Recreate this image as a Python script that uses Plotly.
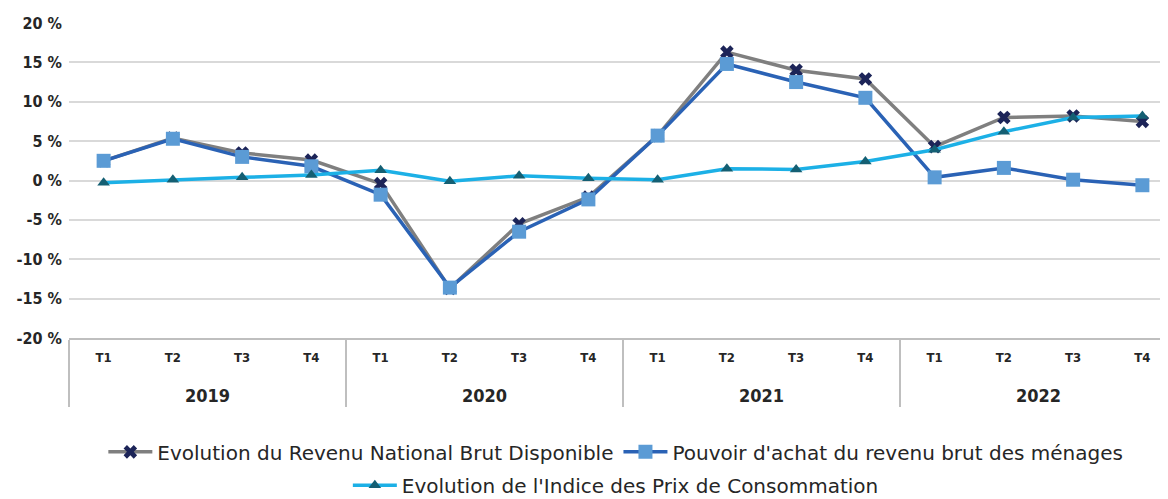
import plotly.graph_objects as go

YEARS = ["2019", "2020", "2021", "2022"]
QUARTERS = ["T1", "T2", "T3", "T4"]
Y_TICKS = [-20, -15, -10, -5, 0, 5, 10, 15, 20]

RNBD = [2.5, 5.4, 3.5, 2.6, -0.4, -13.7, -5.5, -2.1,
        5.7, 16.3, 14.0, 12.9, 4.3, 8.0, 8.2, 7.5]
POUVOIR_ACHAT = [2.5, 5.3, 3.0, 1.8, -1.8, -13.6, -6.5, -2.4,
                 5.7, 14.8, 12.5, 10.5, 0.4, 1.6, 0.1, -0.6]
IPC = [-0.3, 0.1, 0.4, 0.7, 1.3, -0.1, 0.6, 0.3,
       0.1, 1.5, 1.4, 2.4, 3.9, 6.2, 8.0, 8.2]

FONT = "DejaVu Sans, sans-serif"
NARROW = "DejaVu Sans Condensed, DejaVu Sans, sans-serif"
TEXT = "#262626"

# two-level category axis: year / quarter
year_labels = [f"<br><span style='font-size:18px'><b>{y}</b></span>" for y in YEARS]
x = [
    [yl for yl in year_labels for _ in QUARTERS],
    [f"<span style='font-size:13px'><b>{q}</b></span>" for _ in YEARS for q in QUARTERS],
]

fig = go.Figure()

fig.add_trace(go.Scatter(
    x=x, y=RNBD,
    mode="lines+markers",
    name="Evolution du Revenu National Brut Disponible",
    line={"color": "#7f7f7f", "width": 3.5},
    marker={"symbol": "x", "size": 12, "color": "#1c2458"},
))

fig.add_trace(go.Scatter(
    x=x, y=POUVOIR_ACHAT,
    mode="lines+markers",
    name="Pouvoir d'achat du revenu brut des ménages",
    line={"color": "#2a62b5", "width": 3.5},
    marker={"symbol": "square", "size": 14, "color": "#5b9bd5"},
))

fig.add_trace(go.Scatter(
    x=x, y=IPC,
    mode="lines+markers",
    name="Evolution de l'Indice des Prix de Consommation",
    line={"color": "#1cb0e6", "width": 3.5},
    marker={"symbol": "triangle-up", "size": 11, "color": "#145f73"},
    legend="legend2",
))

# the page sits 8px in from the window corner, so the figure is 8px smaller
legend_style = {
    "orientation": "h",
    "xref": "container", "yref": "container",
    "xanchor": "center", "x": 0.524,
    "yanchor": "middle",
    "font": {"size": 20, "color": TEXT, "family": FONT},
    "itemwidth": 44,
    "bgcolor": "rgba(0,0,0,0)",
}

fig.update_layout(
    width=1160,
    height=491,
    paper_bgcolor="white",
    plot_bgcolor="white",
    font={"family": FONT, "color": TEXT, "size": 16},
    margin=dict(l=61, r=0, t=15, b=161),
    showlegend=True,
    legend={**legend_style, "y": 0.096},
    legend2={**legend_style, "y": 0.028},
)

fig.update_yaxes(
    range=[-20, 20],
    tickmode="array",
    tickvals=Y_TICKS,
    ticktext=[f"<b>{v} %</b>" for v in Y_TICKS],
    tickfont={"size": 16, "color": TEXT, "family": NARROW},
    showgrid=True,
    gridcolor="#d9d9d9",
    gridwidth=1.5,
    zeroline=False,
    showline=False,
    ticks="",
    ticklabelstandoff=6,
    automargin=False,
)

fig.update_xaxes(
    type="multicategory",
    range=[-0.5, 15.37],
    tickfont={"size": 18, "color": TEXT, "family": NARROW},
    showgrid=False,
    showline=True,
    linecolor="#bfbfbf",
    linewidth=2,
    showdividers=True,
    dividercolor="#bfbfbf",
    dividerwidth=1.5,
    ticks="",
    automargin=False,
)

fig.write_html("out.html")
